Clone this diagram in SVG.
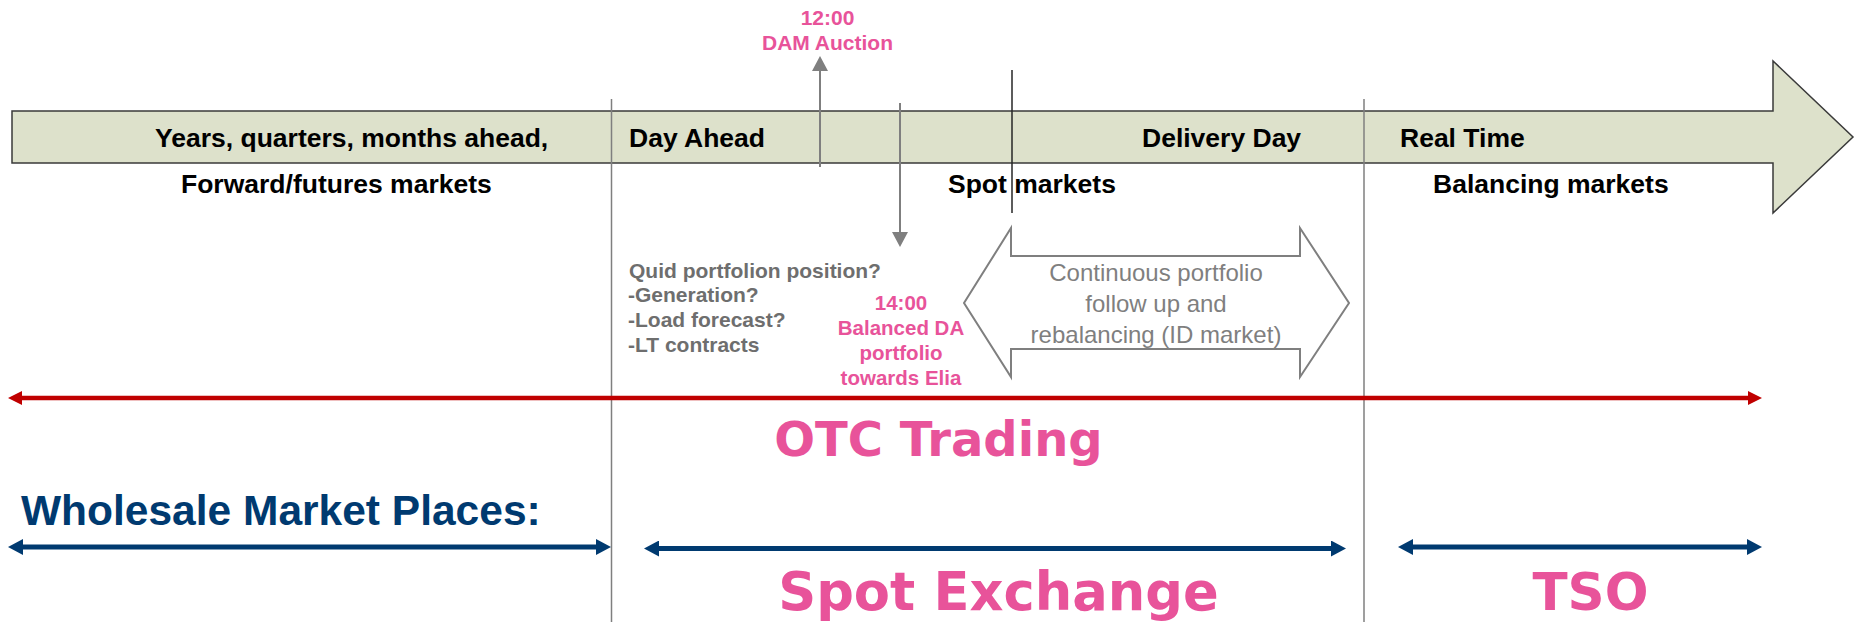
<svg xmlns="http://www.w3.org/2000/svg" width="1855" height="622" viewBox="0 0 1855 622">
  <style>
    .lbl { font-family: "Liberation Sans", Arial, sans-serif; font-weight: bold; font-size: 26.5px; fill: #000000; }
    .pink { font-family: "Liberation Sans", Arial, sans-serif; font-weight: bold; font-size: 21px; fill: #E8539A; text-anchor: middle; }
    .grey { font-family: "Liberation Sans", Arial, sans-serif; font-weight: bold; font-size: 21px; fill: #6E6E6E; }
    .cont { font-family: "Liberation Sans", Arial, sans-serif; font-size: 24px; fill: #7F7F7F; text-anchor: middle; }
    .big { font-family: "DejaVu Sans", sans-serif; font-weight: bold; fill: #E8539A; }
    .vgrey { stroke: #7F7F7F; stroke-width: 1.5; fill: none; }
    .vdark { stroke: #262626; stroke-width: 1.5; fill: none; }
    .garrow { stroke: #7F7F7F; stroke-width: 2; fill: none; }
    .red { stroke: #C00000; stroke-width: 4.5; fill: none; }
    .navy { stroke: #003A70; stroke-width: 5; fill: none; }
  </style>
  <defs>
    <marker id="mGrey" markerUnits="userSpaceOnUse" markerWidth="16" markerHeight="16" refX="0" refY="8" orient="auto-start-reverse" viewBox="0 0 15 16">
      <path d="M0,0 L15,8 L0,16 z" fill="#7F7F7F"/>
    </marker>
    <marker id="mRed" markerUnits="userSpaceOnUse" markerWidth="14" markerHeight="14" refX="0" refY="7" orient="auto-start-reverse" viewBox="0 0 14 14">
      <path d="M0,0 L14,7 L0,14 z" fill="#C00000"/>
    </marker>
    <marker id="mNavy" markerUnits="userSpaceOnUse" markerWidth="15" markerHeight="16" refX="0" refY="8" orient="auto-start-reverse" viewBox="0 0 15 16">
      <path d="M0,0 L15,8 L0,16 z" fill="#003A70"/>
    </marker>
  </defs>

  <rect width="1855" height="622" fill="#FFFFFF"/>

  <g id="timeline">
    <polygon points="12,111 1773,111 1773,61 1853,137 1773,213 1773,163 12,163" fill="#DDE1CB" stroke="#3A3A3A" stroke-width="1.5"/>
  </g>

  <g id="connectors">
    <line class="vgrey" x1="611.5" y1="99" x2="611.5" y2="622"/>
    <line class="vgrey" x1="1364" y1="99" x2="1364" y2="622"/>
    <line class="vdark" x1="1012" y1="70" x2="1012" y2="213"/>
    <line class="garrow" x1="820" y1="167" x2="820" y2="71" marker-end="url(#mGrey)"/>
    <line class="garrow" x1="900" y1="103" x2="900" y2="232" marker-end="url(#mGrey)"/>
    <line class="red" x1="22" y1="398" x2="1748" y2="398" marker-start="url(#mRed)" marker-end="url(#mRed)"/>
    <line class="navy" x1="23" y1="547" x2="596" y2="547" marker-start="url(#mNavy)" marker-end="url(#mNavy)"/>
    <line class="navy" x1="659" y1="548.5" x2="1331" y2="548.5" marker-start="url(#mNavy)" marker-end="url(#mNavy)"/>
    <line class="navy" x1="1413" y1="547" x2="1747" y2="547" marker-start="url(#mNavy)" marker-end="url(#mNavy)"/>
  </g>

  <g id="phase-forward">
    <text class="lbl" x="155" y="147">Years, quarters, months ahead,</text>
    <text class="lbl" x="181" y="193">Forward/futures markets</text>
  </g>
  <g id="phase-dayahead">
    <text class="lbl" x="629" y="147">Day Ahead</text>
  </g>
  <g id="phase-delivery">
    <text class="lbl" x="1142" y="147">Delivery Day</text>
    <text class="lbl" x="948" y="193">Spot markets</text>
  </g>
  <g id="phase-realtime">
    <text class="lbl" x="1400" y="147">Real Time</text>
    <text class="lbl" x="1433" y="193">Balancing markets</text>
  </g>

  <g id="dam-auction">
    <text class="pink" x="827.5" y="25">12:00</text>
    <text class="pink" x="827.5" y="50">DAM Auction</text>
  </g>

  <g id="portfolio-question">
    <text class="grey" x="629" y="277.5">Quid portfolion position?</text>
    <text class="grey" x="628" y="302">-Generation?</text>
    <text class="grey" x="628" y="327">-Load forecast?</text>
    <text class="grey" x="628" y="352">-LT contracts</text>
  </g>

  <g id="balanced-da">
    <text class="pink" x="901" y="310" style="font-size:20.5px">14:00</text>
    <text class="pink" x="901" y="335" style="font-size:20.5px">Balanced DA</text>
    <text class="pink" x="901" y="360" style="font-size:20.5px">portfolio</text>
    <text class="pink" x="901" y="385" style="font-size:20.5px">towards Elia</text>
  </g>

  <g id="continuous">
    <polygon points="964,303 1011,228 1011,256 1300,256 1300,228 1349,303 1300,377 1300,349 1011,349 1011,377" fill="#FFFFFF" stroke="#7F7F7F" stroke-width="2"/>
    <text class="cont" x="1156" y="281">Continuous portfolio</text>
    <text class="cont" x="1156" y="312">follow up and</text>
    <text class="cont" x="1156" y="343">rebalancing (ID market)</text>
  </g>

  <g id="otc">
    <text class="big" x="938.5" y="456" style="font-size:48px" text-anchor="middle">OTC Trading</text>
  </g>

  <g id="wholesale">
    <text x="21" y="525" style="font-family:'Liberation Sans', Arial, sans-serif; font-weight:bold; font-size:42.5px; fill:#003A70">Wholesale Market Places:</text>
  </g>

  <g id="spot-exchange">
    <text class="big" x="998.5" y="610" style="font-size:52.7px" text-anchor="middle">Spot Exchange</text>
  </g>

  <g id="tso">
    <text class="big" x="1590.5" y="610" style="font-size:51.5px" text-anchor="middle">TSO</text>
  </g>
</svg>
